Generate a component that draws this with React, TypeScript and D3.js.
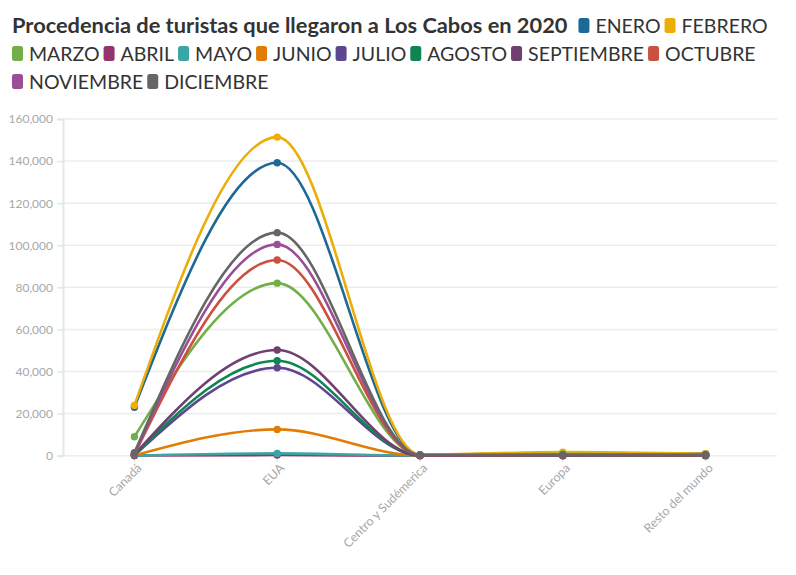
import React, { useEffect, useRef } from "react";
import * as d3 from "d3";

const TITLE = "Procedencia de turistas que llegaron a Los Cabos en 2020";
const categories = ["Canadá", "EUA", "Centro y Sudémerica", "Europa", "Resto del mundo"];
const months = ["ENERO", "FEBRERO", "MARZO", "ABRIL", "MAYO", "JUNIO", "JULIO", "AGOSTO", "SEPTIEMBRE", "OCTUBRE", "NOVIEMBRE", "DICIEMBRE"];
const colors = ["#1D6996", "#EDAD08", "#73AF48", "#94346E", "#38A6A5", "#E17C05", "#5F4690", "#0F8554", "#6F4070", "#CC503E", "#994E95", "#666666"];

const enero = [23000, 139200, 400, 1300, 1000];
const febrero = [23900, 151400, 500, 1700, 900];
const marzo = [9000, 82000, 300, 800, 500];
const abril = [100, 300, 10, 10, 20];
const mayo = [50, 1100, 20, 20, 30];
const junio = [100, 12500, 50, 60, 60];
const julio = [200, 41800, 100, 100, 100];
const agosto = [300, 45100, 150, 150, 150];
const septiembre = [500, 50200, 150, 200, 200];
const octubre = [600, 93000, 200, 300, 250];
const noviembre = [900, 100400, 250, 350, 300];
const diciembre = [1400, 106000, 300, 400, 350];
const seriesValues = [enero, febrero, marzo, abril, mayo, junio, julio, agosto, septiembre, octubre, noviembre, diciembre];
const yTicks = [0, 20000, 40000, 60000, 80000, 100000, 120000, 140000, 160000];

const W = 796;
const H = 575;
const FONT = "Lato, 'Source Sans Pro', sans-serif";

export default function App() {
  const ref = useRef<SVGSVGElement | null>(null);

  useEffect(() => {
    document.body.style.margin = "0";
    const svg = d3.select(ref.current);
    svg.selectAll("*").remove();

    // Legend / header
    const head = svg.append("g");
    const title = head
      .append("text")
      .attr("x", 12)
      .attr("y", 33)
      .attr("font-family", FONT)
      .attr("font-weight", 700)
      .attr("font-size", 21.8)
      .attr("fill", "#333")
      .text(TITLE);
    const tw = (title.node() as SVGTextElement).getComputedTextLength();
    let x = 12 + tw + 11;
    let row = 0;
    const rowY = (r: number) => 33 + r * 28;
    months.forEach((m, i) => {
      const g = head.append("g");
      const t = g
        .append("text")
        .attr("font-family", FONT)
        .attr("font-size", 19.5)
        .attr("fill", "#333")
        .text(m);
      const w = (t.node() as SVGTextElement).getComputedTextLength();
      const itemW = 11 + 6 + w;
      if (x + itemW > 784) {
        row += 1;
        x = 12;
      }
      const y = rowY(row);
      g.append("rect")
        .attr("x", x)
        .attr("y", y - 15)
        .attr("width", 11)
        .attr("height", 15)
        .attr("rx", 2.5)
        .attr("fill", colors[i]);
      t.attr("x", x + 17).attr("y", y);
      x += itemW + 4;
    });

    const left = 63;
    const right = 777;
    const top = 119;
    const bottom = 455.7;

    const xb = d3.scaleBand<string>().domain(categories).range([left, right]);
    const xp = (c: string) => (xb(c) as number) + xb.bandwidth() / 2;
    const y = d3.scaleLinear().domain([0, 160000]).range([bottom, top]);

    const grid = svg.append("g");
    grid
      .selectAll("line")
      .data(yTicks)
      .join("line")
      .attr("x1", left)
      .attr("x2", right)
      .attr("y1", (d) => y(d))
      .attr("y2", (d) => y(d))
      .attr("stroke", "#ececec")
      .attr("stroke-width", 1.5);

    const yAxis = svg
      .append("g")
      .attr("transform", `translate(${left},0)`)
      .call(
        d3
          .axisLeft(y)
          .tickValues(yTicks)
          .tickSize(6)
          .tickPadding(4)
          .tickFormat((d) => d3.format(",")(d as number))
      );
    yAxis.select(".domain").attr("stroke", "#e6e6e6").attr("stroke-width", 2);
    yAxis.selectAll(".tick line").attr("stroke", "#e6e6e6").attr("stroke-width", 1.5);
    yAxis
      .selectAll(".tick text")
      .attr("fill", "#a8a8a8")
      .attr("font-family", FONT)
      .attr("font-size", 12);

    const xAxis = svg.append("g");
    const xt = xAxis.selectAll("g").data(categories).join("g").attr("transform", (d) => `translate(${xp(d)},${bottom})`);
    xt.append("line").attr("y1", 0).attr("y2", 6).attr("stroke", "#e6e6e6").attr("stroke-width", 1.5);
    xt.append("text")
      .attr("transform", "translate(5,10) rotate(-45)")
      .attr("text-anchor", "end")
      .attr("dy", "0.35em")
      .attr("fill", "#a8a8a8")
      .attr("font-family", FONT)
      .attr("font-size", 12.4)
      .text((d) => d);

    const line = d3
      .line<number>()
      .x((_, i) => xp(categories[i]))
      .y((d) => y(d))
      .curve(d3.curveMonotoneX);

    const plot = svg.append("g");
    seriesValues.forEach((vals, si) => {
      const g = plot.append("g");
      g.append("path")
        .attr("d", line(vals) as string)
        .attr("fill", "none")
        .attr("stroke", colors[si])
        .attr("stroke-width", 2.6)
        .attr("stroke-linejoin", "round");
      g.selectAll("circle")
        .data(vals)
        .join("circle")
        .attr("cx", (_, i) => xp(categories[i]))
        .attr("cy", (d) => y(d))
        .attr("r", 3.7)
        .attr("fill", colors[si]);
    });
  }, []);

  return <svg ref={ref} width={W} height={H} style={{ display: "block", background: "#fff" }} />;
}
